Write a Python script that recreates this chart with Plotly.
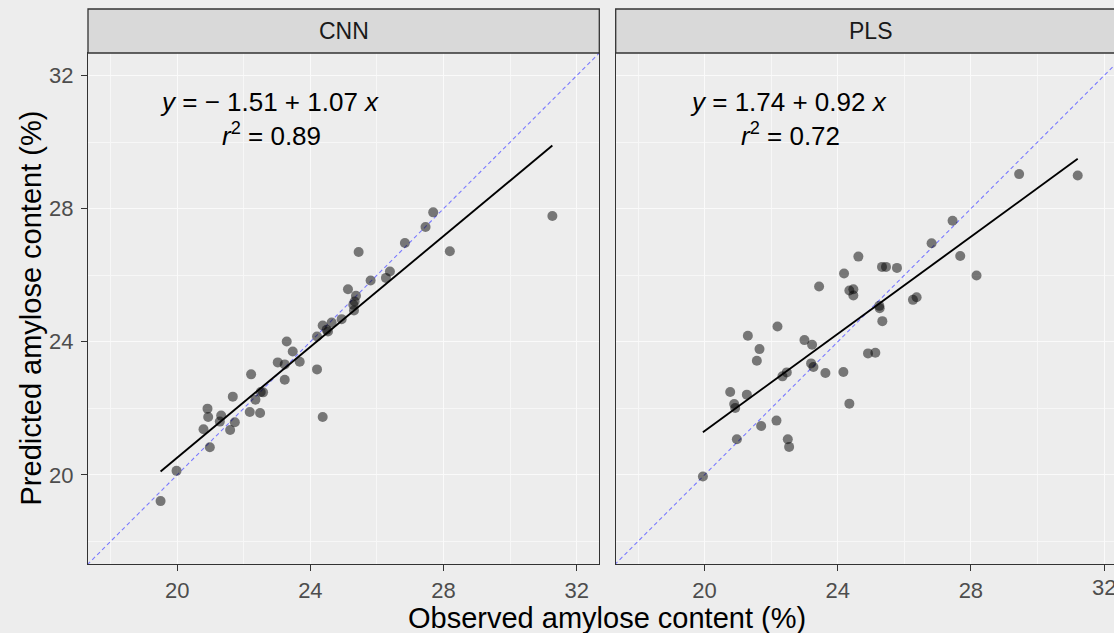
import plotly.graph_objects as go

# ---------------- data ----------------
panels = ["CNN", "PLS"]

cnn_obs = [19.50, 19.98, 20.98, 20.79, 20.91, 20.93, 21.32, 21.28, 21.59, 21.73,
           21.67, 22.18, 22.49, 22.22, 22.35, 22.51, 22.58, 23.02, 23.23, 23.23,
           23.29, 23.47, 23.68, 24.20, 24.37, 24.20, 24.37, 24.49, 24.53, 24.64,
           24.94, 25.13, 25.37, 25.29, 25.31, 25.33, 25.45, 25.81, 26.27, 26.39,
           26.84, 27.46, 27.69, 28.19, 31.27]
cnn_pred = [19.21, 20.12, 20.83, 21.37, 21.99, 21.74, 21.78, 21.60, 21.35, 21.58,
            22.35, 21.89, 21.86, 23.02, 22.26, 22.49, 22.48, 23.38, 23.32, 22.86,
            24.01, 23.71, 23.40, 23.17, 21.74, 24.16, 24.49, 24.36, 24.31, 24.58,
            24.68, 25.58, 25.38, 25.11, 24.94, 25.21, 26.70, 25.84, 25.92, 26.11,
            26.97, 27.45, 27.89, 26.72, 27.78]

pls_obs = [19.95, 20.77, 20.89, 20.92, 20.97, 21.27, 21.30, 21.65, 21.57, 21.70,
           22.16, 22.19, 22.34, 22.47, 22.50, 22.54, 23.00, 23.23, 23.20, 23.27,
           23.44, 23.63, 24.17, 24.19, 24.35, 24.35, 24.47, 24.47, 24.62, 24.91,
           25.13, 25.25, 25.26, 25.34, 25.33, 25.45, 25.78, 26.26, 26.37, 26.82,
           27.45, 27.68, 28.17, 29.45, 31.21]
pls_pred = [19.95, 22.49, 22.13, 22.01, 21.07, 22.41, 24.18, 23.78, 23.43, 21.47,
            21.63, 24.46, 22.96, 23.08, 21.07, 20.84, 24.05, 23.91, 23.35, 23.24,
            25.66, 23.06, 23.09, 26.05, 22.14, 25.54, 25.58, 25.39, 26.56, 23.65,
            23.67, 25.08, 25.01, 24.62, 26.25, 26.25, 26.22, 25.26, 25.34, 26.96,
            27.64, 26.58, 25.99, 29.04, 29.00]

# fitted regression lines (end points)
cnn_fit_x = [19.50, 31.27]
cnn_fit_y = [20.10, 29.90]
pls_fit_x = [19.95, 31.21]
pls_fit_y = [21.28, 29.50]

# 1:1 reference line
identity = [17.0, 33.5]

cnn_eq = ["<i>y</i> = \u2212 1.51 + 1.07 <i>x</i>", "<i>r</i><sup>2</sup> = 0.89"]
pls_eq = ["<i>y</i> = 1.74 + 0.92 <i>x</i>", "<i>r</i><sup>2</sup> = 0.72"]

tick_vals = [20, 24, 28, 32]
tick_text = ["20", "24", "28", "32"]
axis_range = [17.32, 32.68]
pls_x_range = [17.33, 32.30]

x_title = "Observed amylose content (%)"
y_title = "Predicted amylose content (%)"

# ---------------- figure ----------------
FONT = "Liberation Sans, Arial, sans-serif"
BG = "#EDEDED"
LINE = "#333333"
TICK_FONT = dict(family=FONT, size=22, color="#4D4D4D")

W, H = 1114, 633
ML, MR, MT, MB = 88, 0, 53, 69
PW = W - ML - MR
PH = H - MT - MB

fig = go.Figure()

series = [
    (cnn_obs, cnn_pred, cnn_fit_x, cnn_fit_y, "x", "y"),
    (pls_obs, pls_pred, pls_fit_x, pls_fit_y, "x2", "y2"),
]
for obs, pred, fx, fy, xa, ya in series:
    fig.add_trace(go.Scatter(
        x=identity, y=identity, mode="lines", xaxis=xa, yaxis=ya,
        line=dict(color="#7A7AFF", width=1.1, dash="4px,3px"),
        hoverinfo="skip", showlegend=False))
    fig.add_trace(go.Scatter(
        x=obs, y=pred, mode="markers", xaxis=xa, yaxis=ya,
        marker=dict(size=10, color="rgba(0,0,0,0.5)", line=dict(width=0)),
        showlegend=False))
    fig.add_trace(go.Scatter(
        x=fx, y=fy, mode="lines", xaxis=xa, yaxis=ya,
        line=dict(color="black", width=1.9),
        showlegend=False))

d1 = [0, (599.3 - ML) / PW]
d2 = [(615.7 - ML) / PW, 1.0]

axis_common = dict(
    tickmode="array", tickvals=tick_vals, ticktext=tick_text,
    ticks="outside", ticklen=6, tickwidth=1.2, tickcolor=LINE,
    tickfont=TICK_FONT,
    showgrid=True, gridcolor="#FAFAFA", gridwidth=1.2,
    minor=dict(dtick=4, tick0=18, showgrid=True, gridcolor="#F7F7F7",
               gridwidth=0.6, ticks=""),
    zeroline=False, showline=True, linecolor=LINE, linewidth=1.3,
)

fig.update_layout(
    width=W, height=H,
    margin=dict(l=ML, r=MR, t=MT, b=MB, pad=0),
    paper_bgcolor=BG, plot_bgcolor=BG,
    font=dict(family=FONT, color="#1A1A1A"),
    xaxis=dict(domain=d1, range=axis_range, anchor="y", mirror=True,
               ticklabelstandoff=0, **axis_common),
    yaxis=dict(domain=[0, 1], range=axis_range, anchor="x", mirror=True,
               ticklabelstandoff=3, **axis_common),
    xaxis2=dict(domain=d2, range=pls_x_range, anchor="y2", mirror=True,
                ticklabelstandoff=0, **axis_common),
    yaxis2=dict(domain=[0, 1], range=axis_range, anchor="x2", mirror=False,
                **{**axis_common, "ticks": "", "showticklabels": False}),
    showlegend=False,
)

strip_h = 44 / PH
shapes = []
annotations = []
for name, xd, cx in [(panels[0], "x domain", 0.5), (panels[1], "x2 domain", (870.9 - 615.7) / (W - 615.7))]:
    ydom = "y domain" if xd == "x domain" else "y2 domain"
    shapes.append(dict(type="rect", xref=xd, yref=ydom,
                       x0=0, x1=1 if xd == "x domain" else 1.05,
                       y0=1, y1=1 + strip_h,
                       fillcolor="#D9D9D9", line=dict(color=LINE, width=1.3),
                       layer="above"))
    annotations.append(dict(text=name, xref=xd, yref=ydom, x=cx,
                            y=1 + strip_h / 2, showarrow=False,
                            xanchor="center", yanchor="middle",
                            font=dict(family=FONT, size=23, color="#1A1A1A")))

# PLS "32" tick label sits on the clipped right edge; plotly drops it, so draw it as text
annotations.append(dict(text=tick_text[-1], xref="x2", yref="paper", x=tick_vals[-1],
                        y=-(587 - (MT + PH)) / PH, showarrow=False,
                        xanchor="center", yanchor="middle", font=TICK_FONT))

# regression equations
for eq, xa, ya, xc in [(cnn_eq, "x", "y", 22.78), (pls_eq, "x2", "y2", 22.52)]:
    annotations.append(dict(text=eq[0], xref=xa, yref=ya, x=xc, y=31.22,
                            showarrow=False, xanchor="center", yanchor="middle",
                            font=dict(family=FONT, size=26, color="black")))
    annotations.append(dict(text=eq[1], xref=xa, yref=ya, x=xc + 0.05, y=30.22,
                            showarrow=False, xanchor="center", yanchor="middle",
                            font=dict(family=FONT, size=26, color="black")))

# axis titles
annotations.append(dict(text=x_title, xref="paper", yref="paper",
                        x=(607 - ML) / PW, y=-(618 - (MT + PH)) / PH,
                        showarrow=False, xanchor="center", yanchor="middle",
                        font=dict(family=FONT, size=29, color="black")))
annotations.append(dict(text=y_title, xref="paper", yref="paper",
                        x=(30 - ML) / PW, y=0.5, textangle=-90,
                        showarrow=False, xanchor="center", yanchor="middle",
                        font=dict(family=FONT, size=29, color="black")))

fig.update_layout(shapes=shapes, annotations=annotations)

fig.write_html("out.html")
